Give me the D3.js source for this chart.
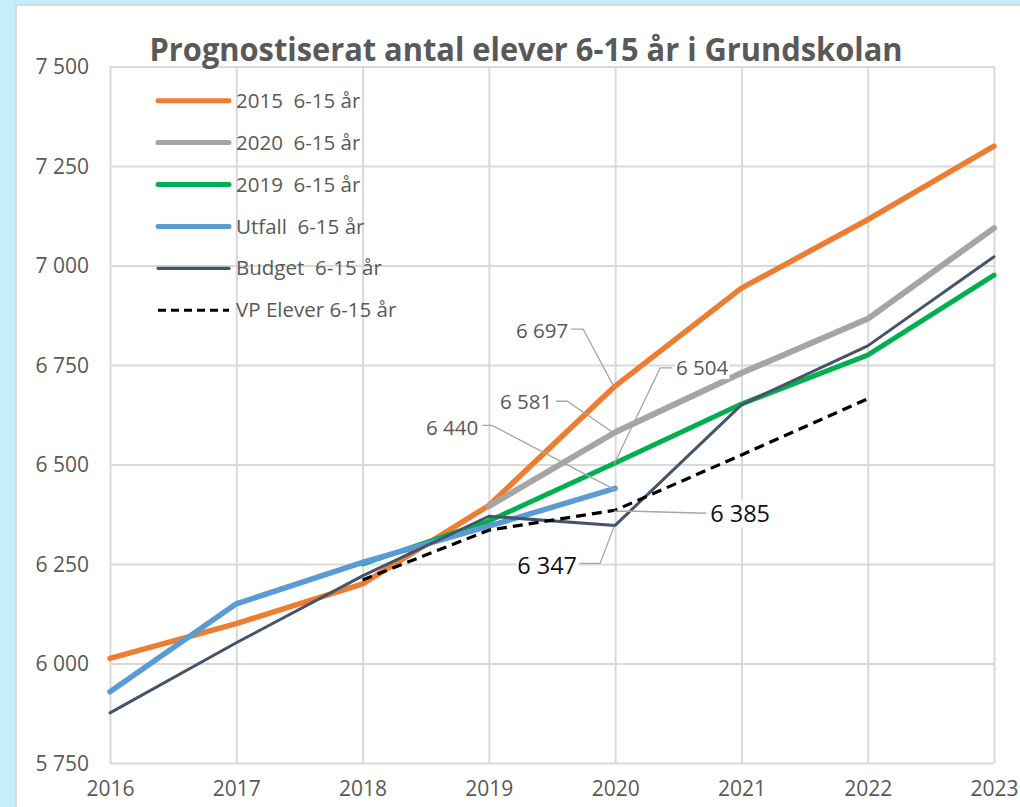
<!DOCTYPE html>
<html>
<head>
<meta charset="utf-8">
<script src="https://cdn.jsdelivr.net/npm/d3@7"></script>
<style>
  html, body { margin: 0; padding: 0; background: #c5eefb; }
  svg { display: block; }
  text { font-family: "Open Sans", "Noto Sans", sans-serif; white-space: pre; }
</style>
</head>
<body>
<svg id="chart" width="1020" height="807"></svg>
<script>
// ---- Data ----
const years = [2016, 2017, 2018, 2019, 2020, 2021, 2022, 2023];
const prog2015 = [6013, 6100, 6200, 6397, 6697, 6943, 7115, 7300];
const prog2020 = [null, null, null, 6395, 6581, 6730, 6866, 7094];
const prog2019 = [null, null, 6250, 6358, 6504, 6652, 6775, 6976];
const utfall   = [5929, 6150, 6254, 6345, 6440, null, null, null];
const budget   = [5876, 6052, 6220, 6370, 6347, 6650, 6798, 7022];
const vpElever = [null, null, 6210, 6335, 6385, 6524, 6665, null];
const yTicks = [5750, 6000, 6250, 6500, 6750, 7000, 7250, 7500];
const seriesNames = ["2015  6-15 år", "2020  6-15 år", "2019  6-15 år", "Utfall  6-15 år", "Budget  6-15 år", "VP Elever 6-15 år"];
const titleText = "Prognostiserat antal elever 6-15 år i Grundskolan";

// ---- Styles ----
const series = [
  { name: seriesNames[0], values: prog2015, color: "#ED7D31", width: 5.5 },
  { name: seriesNames[1], values: prog2020, color: "#A5A5A5", width: 6 },
  { name: seriesNames[2], values: prog2019, color: "#00B050", width: 5 },
  { name: seriesNames[3], values: utfall,   color: "#5B9BD5", width: 5.5 },
  { name: seriesNames[4], values: budget,   color: "#44546A", width: 3 },
  { name: seriesNames[5], values: vpElever, color: "#000000", width: 3.2, dash: "10,6" }
];

const svg = d3.select("#chart");
const W = 1020, H = 807;
const plot = { left: 110, right: 994, top: 66.5, bottom: 763 };

svg.append("rect").attr("width", W).attr("height", H).attr("fill", "#c5eefb");
svg.append("rect").attr("x", 16).attr("y", 5).attr("width", W).attr("height", H)
  .attr("fill", "#ffffff").attr("stroke", "#d9d9d9").attr("stroke-width", 2);

const x = d3.scaleLinear().domain([2016, 2023]).range([plot.left, plot.right]);
const y = d3.scaleLinear().domain([5750, 7500]).range([plot.bottom, plot.top]);

const loc = d3.formatLocale({ decimal: ",", thousands: " ", grouping: [3], currency: ["", " kr"] });
const fmt = loc.format(",d");

// Gridlines via axes
const gy = svg.append("g").attr("transform", `translate(${plot.left},0)`)
  .call(d3.axisLeft(y).tickValues(yTicks).tickSize(-(plot.right - plot.left)).tickFormat(fmt).tickPadding(21));
const gx = svg.append("g").attr("transform", `translate(0,${plot.bottom})`)
  .call(d3.axisBottom(x).tickValues(years).tickSize(-(plot.bottom - plot.top)).tickFormat(d3.format("d")).tickPadding(18));
[gy, gx].forEach(g => {
  g.select(".domain").remove();
  g.selectAll(".tick line").attr("stroke", "#d9d9d9").attr("stroke-width", 2);
  g.selectAll(".tick text").attr("fill", "#595959").attr("font-size", 21)
    .style("font-family", "'Open Sans', sans-serif");
});
gy.selectAll(".tick text").attr("dy", "0.35em");
gx.selectAll(".tick text").attr("dy", "0.71em");

// Title
svg.append("text").attr("x", 526).attr("y", 61).attr("text-anchor", "middle")
  .attr("font-size", 33).attr("font-weight", "bold").attr("fill", "#595959")
  .attr("textLength", 753).attr("lengthAdjust", "spacingAndGlyphs")
  .text(titleText);

// Lines
const line = d3.line().defined(d => d.v != null).x(d => x(d.year)).y(d => y(d.v));
series.forEach(s => {
  const pts = years.map((yr, i) => ({ year: yr, v: s.values[i] }));
  svg.append("path").datum(pts).attr("d", line).attr("fill", "none")
    .attr("stroke", s.color).attr("stroke-width", s.width)
    .attr("stroke-linejoin", "round").attr("stroke-linecap", s.dash ? "butt" : "round")
    .attr("stroke-dasharray", s.dash || null);
});

// Data labels with leader lines (offsets relative to the data point)
const idx2020 = years.indexOf(2020);
const labels = [
  { s: 0, tx: -73, ty: -55, elbow: [-32, -57], end: [-44, -57], big: false },
  { s: 1, tx: -89, ty: -30, elbow: [-48, -31], end: [-59, -31], big: false },
  { s: 2, tx: 87, ty: -95, elbow: [45, -95], end: [57, -95], big: false },
  { s: 3, tx: -163, ty: -61, elbow: [-123, -63], end: [-133, -63], big: false },
  { s: 5, tx: 125, ty: 4, elbow: [20, 1], end: [91, 3], big: true },
  { s: 4, tx: -68, ty: 40, elbow: [-15, 38], end: [-35, 38], big: true }
];
labels.forEach(l => {
  const v = series[l.s].values[idx2020];
  const px = x(2020), py = y(v);
  svg.append("path")
    .attr("d", d3.line()([[px - 1, py + 1], [px + l.elbow[0], py + l.elbow[1]], [px + l.end[0], py + l.end[1]]]))
    .attr("fill", "none").attr("stroke", "#a6a6a6").attr("stroke-width", 1.3);
  const g = svg.append("g");
  const t = g.append("text").attr("x", px + l.tx).attr("y", py + l.ty)
    .attr("text-anchor", "middle").attr("dy", "0.35em")
    .attr("font-size", l.big ? 23.5 : 20.5).attr("fill", l.big ? "#111111" : "#595959")
    .text(fmt(v));
  const bb = t.node().getBBox();
  g.insert("rect", "text").attr("x", bb.x - 1).attr("y", bb.y + 2).attr("width", bb.width + 2)
    .attr("height", bb.height - 4).attr("fill", "#ffffff");
});

// Legend
const legend = svg.append("g");
series.forEach((s, i) => {
  const ly = 100.7 + i * 41.9;
  legend.append("line").attr("x1", 158).attr("x2", 229).attr("y1", ly).attr("y2", ly)
    .attr("stroke", s.color).attr("stroke-width", s.dash ? 3 : (s.width >= 5 ? 5 : 3.2))
    .attr("stroke-linecap", s.dash ? "butt" : "round")
    .attr("stroke-dasharray", s.dash ? "8,5" : null);
  legend.append("text").attr("x", 236).attr("y", ly).attr("dy", "0.35em")
    .attr("font-size", 20.5).attr("fill", "#595959").text(s.name);
});
</script>
</body>
</html>
